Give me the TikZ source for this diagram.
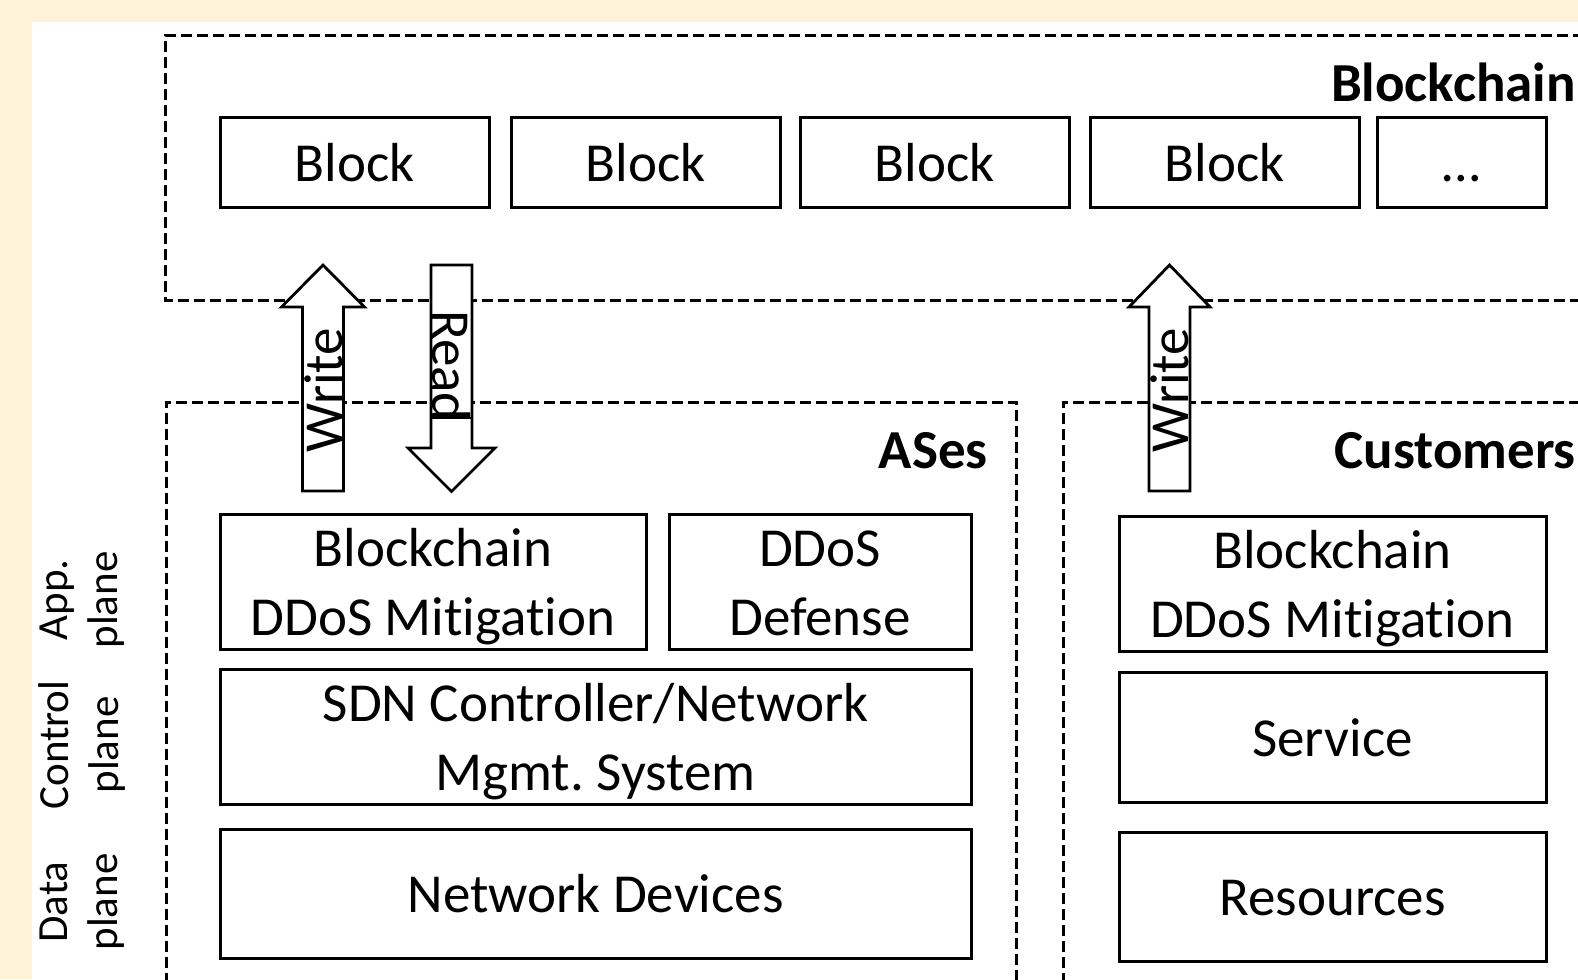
\documentclass[tikz,border=0pt]{standalone}
\usepackage{fontspec}
\setmainfont{Carlito}[Ligatures=NoCommon]
\frenchspacing
\definecolor{cream}{RGB}{255,242,216}
\newcommand\mystrut{\rule[-0.25em]{0pt}{1.2em}}
\begin{document}
\begin{tikzpicture}[x=1pt,y=-1pt,
  box/.style={draw, line width=3pt, inner sep=0pt, align=center, fill=white,
    font=\fontsize{55}{69}\selectfont},
  region/.style={draw, line width=3pt, dash pattern=on 11pt off 5pt},
  title/.style={font=\fontsize{55}{66}\selectfont\bfseries, inner sep=0pt},
  plane/.style={rotate=90, align=center, inner sep=0pt, font=\fontsize{43}{50}\selectfont},
  bigarrow/.style={draw, fill=white, line width=2.8pt, line join=miter},
  arrowtext/.style={inner sep=0pt, font=\fontsize{55}{66}\selectfont}]
\useasboundingbox (0,0) rectangle (1578,979);
\fill[cream] (0,0) rectangle (1578,979);
\fill[white] (32,22) rectangle (1578,979);

% dashed regions
\draw[region] (1600,36) -- (165,36) -- (165,300) -- (1600,300);
\draw[region] (166,1000) -- (166,402) -- (1016,402) -- (1016,1000);
\draw[region] (1063,1000) -- (1063,402) -- (1600,402);

% region titles
\node[title, anchor=base east] (tbc) at (1576,102) {Blockchain};
\node[title, anchor=base east] (tas) at (988,468) {ASes};
\node[title, anchor=base east] (tcu) at (1576,468) {Customers};

% blocks
\node[box, minimum width=269pt, minimum height=89pt] (b1) at (354.5,162.5) {\mystrut Block};
\node[box, minimum width=269pt, minimum height=89pt] (b2) at (645.5,162.5) {\mystrut Block};
\node[box, minimum width=269pt, minimum height=89pt] (b3) at (934.5,162.5) {\mystrut Block};
\node[box, minimum width=269pt, minimum height=89pt] (b4) at (1224.5,162.5) {\mystrut Block};
\node[box, minimum width=169pt, minimum height=89pt] (b5) at (1461.5,162.5) {\mystrut\dots};

% ASes
\node[box, minimum width=426pt, minimum height=131pt] (a1) at (433,581.5) {\mystrut Blockchain\\DDoS Mitigation\mystrut};
\node[box, minimum width=302pt, minimum height=131pt] (a2) at (820,581.5) {\mystrut DDoS\\Defense\mystrut};
\node[box, minimum width=751pt, minimum height=130pt] (a3) at (595.5,737) {\mystrut SDN Controller/Network\\Mgmt. System\mystrut};
\node[box, minimum width=751pt, minimum height=129pt] (a4) at (595.5,893.5) {\mystrut Network Devices};

% Customers
\node[box, minimum width=427pt, minimum height=131pt] (c1) at (1332.5,583.5) {\mystrut Blockchain\\DDoS Mitigation\mystrut};
\node[box, minimum width=427pt, minimum height=130pt] (c2) at (1332.5,737) {\mystrut Service};
\node[box, minimum width=427pt, minimum height=129pt] (c3) at (1332.5,896.5) {\mystrut Resources};

% plane labels
\node[plane] (pa) at (82,600) {App.\\plane};
\node[plane] (pc) at (82,745) {Control\\plane};
\node[plane] (pd) at (82,902) {Data\\plane};

% block arrows
\draw[bigarrow] (302.5,491) -- (302.5,307) -- (281.5,307) -- (323,265) -- (364.5,307) -- (343.5,307) -- (343.5,491) -- cycle;
\draw[bigarrow] (431,265) -- (472,265) -- (472,448) -- (495,448) -- (451.5,491.5) -- (408,448) -- (431,448) -- cycle;
\draw[line width=2.8pt] (431,418) -- (472,418);
\draw[bigarrow] (1149,491) -- (1149,307) -- (1129,307) -- (1169.5,265) -- (1210,307) -- (1190,307) -- (1190,491) -- cycle;

\node[arrowtext, rotate=90, anchor=base] (w1) at (342,390) {Write};
\node[arrowtext, rotate=-90, anchor=base] (rd) at (432,366) {Read};
\node[arrowtext, rotate=90, anchor=base] (w2) at (1188,390) {Write};
\end{tikzpicture}
\end{document}
